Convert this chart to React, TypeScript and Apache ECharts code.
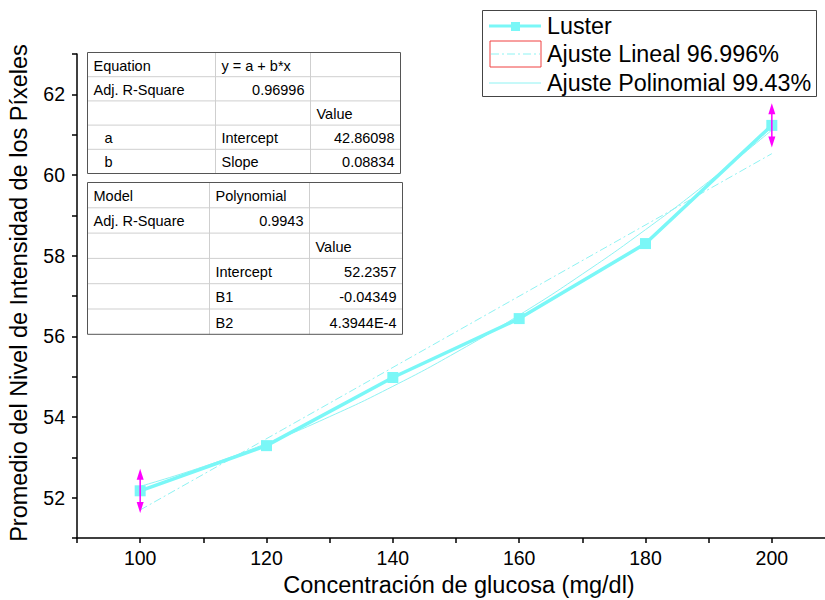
import React, { useEffect, useRef } from "react";
import * as echarts from "echarts";

const xValues = [100, 120, 140, 160, 180, 200];
const lusterValues = [52.17, 53.29, 54.98, 56.44, 58.3, 61.23];
const errorValues = [0.55, 0, 0, 0, 0, 0.55];

const linearX = [100, 200];
const linearValues = [51.695, 60.529];

const polyX = [100, 110, 120, 130, 140, 150, 160, 170, 180, 190, 200];
const polyValues = [52.281, 52.769, 53.345, 54.009, 54.76, 55.6, 56.527, 57.542, 58.645, 59.836, 61.115];

const legendNames = ["Luster", "Ajuste Lineal 96.996%", "Ajuste Polinomial 99.43%"];

const table1Rows = [
  ["Equation", "y = a + b*x", ""],
  ["Adj. R-Square", "0.96996", ""],
  ["", "", "Value"],
  ["a", "Intercept", "42.86098"],
  ["b", "Slope", "0.08834"],
];
const table2Rows = [
  ["Model", "Polynomial", ""],
  ["Adj. R-Square", "0.9943", ""],
  ["", "", "Value"],
  ["", "Intercept", "52.2357"],
  ["", "B1", "-0.04349"],
  ["", "B2", "4.3944E-4"],
];

const xTitle = "Concentración de glucosa (mg/dl)";
const yTitle = "Promedio del Nivel de Intensidad de los Píxeles";

const FONT = 'Arial, "Liberation Sans", sans-serif';
const CYAN = "#7af7f7";
const FIT = "#8ef3f3";

function buildTable(rows: string[][], x: number, y: number, colX: number[], rowH: number) {
  const els: any[] = [];
  const width = colX[colX.length - 1] - colX[0];
  const height = rowH * rows.length;
  els.push({ type: "rect", shape: { x, y, width, height }, style: { fill: "#fff", stroke: null }, z: 10 });
  for (let r = 1; r < rows.length; r++) {
    els.push({
      type: "line",
      shape: { x1: x, y1: y + r * rowH, x2: x + width, y2: y + r * rowH },
      style: { stroke: "#cfcfcf", lineWidth: 1 },
      z: 11,
    });
  }
  for (let c = 1; c < colX.length - 1; c++) {
    const cx = x + colX[c] - colX[0];
    els.push({
      type: "line",
      shape: { x1: cx, y1: y, x2: cx, y2: y + height },
      style: { stroke: "#cfcfcf", lineWidth: 1 },
      z: 11,
    });
  }
  els.push({
    type: "rect",
    shape: { x, y, width, height },
    style: { fill: null, stroke: "#555", lineWidth: 1 },
    z: 12,
  });
  rows.forEach((row, r) => {
    row.forEach((txt, c) => {
      if (!txt) return;
      const left = x + colX[c] - colX[0];
      const right = x + colX[c + 1] - colX[0];
      const numeric = /^-?[0-9.]+(E-?[0-9]+)?$/.test(txt);
      const single = txt.length === 1;
      els.push({
        type: "text",
        x: numeric ? right - 6 : left + (single ? 17 : 6),
        y: y + r * rowH + rowH / 2 + 1,
        style: {
          text: txt,
          font: `14.5px ${FONT}`,
          fill: "#000",
          align: numeric ? "right" : "left",
          verticalAlign: "middle",
        },
        z: 13,
      });
    });
  });
  return els;
}

export default function App() {
  const ref = useRef<HTMLDivElement>(null);
  useEffect(() => {
    document.body.style.margin = "0";
    const chart = echarts.init(ref.current!, null, { renderer: "svg" });

    const lx = 482;
    const ly = 10;
    const legendEls: any[] = [
      { type: "rect", shape: { x: lx + 0.5, y: ly + 0.5, width: 334, height: 86 }, style: { fill: "#fff", stroke: "#444", lineWidth: 1 }, z: 10 },
      { type: "line", shape: { x1: 489, y1: 26, x2: 541, y2: 26 }, style: { stroke: CYAN, lineWidth: 3 }, z: 11 },
      { type: "rect", shape: { x: 511, y: 22, width: 9, height: 9 }, style: { fill: CYAN }, z: 12 },
      { type: "rect", shape: { x: 490, y: 41, width: 51, height: 26 }, style: { fill: "#fff", stroke: "#f04040", lineWidth: 1 }, z: 11 },
      { type: "line", shape: { x1: 491, y1: 54, x2: 540, y2: 54 }, style: { stroke: FIT, lineWidth: 1, lineDash: [8, 3, 2, 3] }, z: 12 },
      { type: "line", shape: { x1: 489, y1: 83, x2: 541, y2: 83 }, style: { stroke: FIT, lineWidth: 1 }, z: 11 },
    ];
    [26, 54, 83].forEach((yy, i) => {
      legendEls.push({
        type: "text",
        x: 547,
        y: yy,
        style: { text: legendNames[i], font: `23.3px ${FONT}`, fill: "#000", align: "left", verticalAlign: "middle" },
        z: 12,
      });
    });

    const graphics: any[] = [
      ...buildTable(table1Rows, 87.5, 52.5, [87, 215, 310, 400], 24.2),
      ...buildTable(table2Rows, 87.5, 182.5, [87, 209, 309, 402], 25.3),
      ...legendEls,
      {
        type: "text",
        x: 459,
        y: 585,
        style: { text: xTitle, font: `23.5px ${FONT}`, fill: "#000", align: "center", verticalAlign: "middle" },
      },
      {
        type: "text",
        x: 19,
        y: 293,
        rotation: Math.PI / 2,
        style: { text: yTitle, font: `23.5px ${FONT}`, fill: "#000", align: "center", verticalAlign: "middle" },
      },
    ];

    chart.setOption({
      animation: false,
      backgroundColor: "#fff",
      grid: { left: 77, top: 54, width: 758, height: 484, outerBoundsMode: "none", containLabel: false },
      xAxis: {
        type: "value",
        min: 90,
        max: 210,
        interval: 10,
        axisLine: { lineStyle: { color: "#000", width: 1.5 } },
        axisTick: { inside: false, length: 5, lineStyle: { color: "#000", width: 1.5 } },
        splitLine: { show: false },
        axisLabel: {
          margin: 10,
          fontSize: 19.5,
          fontFamily: FONT,
          color: "#000",
          formatter: (v: number) => (v % 20 === 0 && v >= 100 && v <= 200 ? String(v) : ""),
        },
      },
      yAxis: {
        type: "value",
        min: 51,
        max: 63,
        interval: 1,
        axisLine: { show: true, lineStyle: { color: "#000", width: 1.5 } },
        axisTick: { show: true, inside: false, length: 5, lineStyle: { color: "#000", width: 1.5 } },
        splitLine: { show: false },
        axisLabel: {
          margin: 12,
          fontSize: 19.5,
          fontFamily: FONT,
          color: "#000",
          formatter: (v: number) => (v % 2 === 0 && v >= 52 && v <= 62 ? String(v) : ""),
        },
      },
      series: [
        {
          name: legendNames[2],
          type: "line",
          data: polyX.map((x, i) => [x, polyValues[i]]),
          smooth: true,
          showSymbol: false,
          lineStyle: { color: FIT, width: 1 },
          z: 2,
        },
        {
          name: legendNames[1],
          type: "line",
          data: linearX.map((x, i) => [x, linearValues[i]]),
          showSymbol: false,
          lineStyle: { color: FIT, width: 1, type: [8, 3, 2, 3] },
          z: 2,
        },
        {
          name: legendNames[0],
          type: "line",
          data: xValues.map((x, i) => [x, lusterValues[i]]),
          symbol: "rect",
          symbolSize: 11,
          itemStyle: { color: CYAN },
          lineStyle: { color: CYAN, width: 3.5 },
          z: 3,
        },
        {
          type: "custom",
          z: 5,
          data: xValues.map((x, i) => [x, lusterValues[i], errorValues[i]]),
          renderItem: (params: any, api: any) => {
            const x = api.value(0);
            const y = api.value(1);
            const e = api.value(2);
            if (!e) return null;
            const top = api.coord([x, y + e]);
            const bot = api.coord([x, y - e]);
            const c = "#ff00ff";
            return {
              type: "group",
              children: [
                { type: "line", shape: { x1: top[0], y1: top[1] + 4, x2: bot[0], y2: bot[1] - 4 }, style: { stroke: c, lineWidth: 1.5 } },
                { type: "polygon", shape: { points: [[top[0], top[1]], [top[0] - 3.5, top[1] + 11], [top[0] + 3.5, top[1] + 11]] }, style: { fill: c } },
                { type: "polygon", shape: { points: [[bot[0], bot[1]], [bot[0] - 3.5, bot[1] - 11], [bot[0] + 3.5, bot[1] - 11]] }, style: { fill: c } },
              ],
            };
          },
        },
      ],
      graphic: graphics,
    });
    return () => chart.dispose();
  }, []);
  return <div ref={ref} style={{ width: 825, height: 600 }} />;
}
